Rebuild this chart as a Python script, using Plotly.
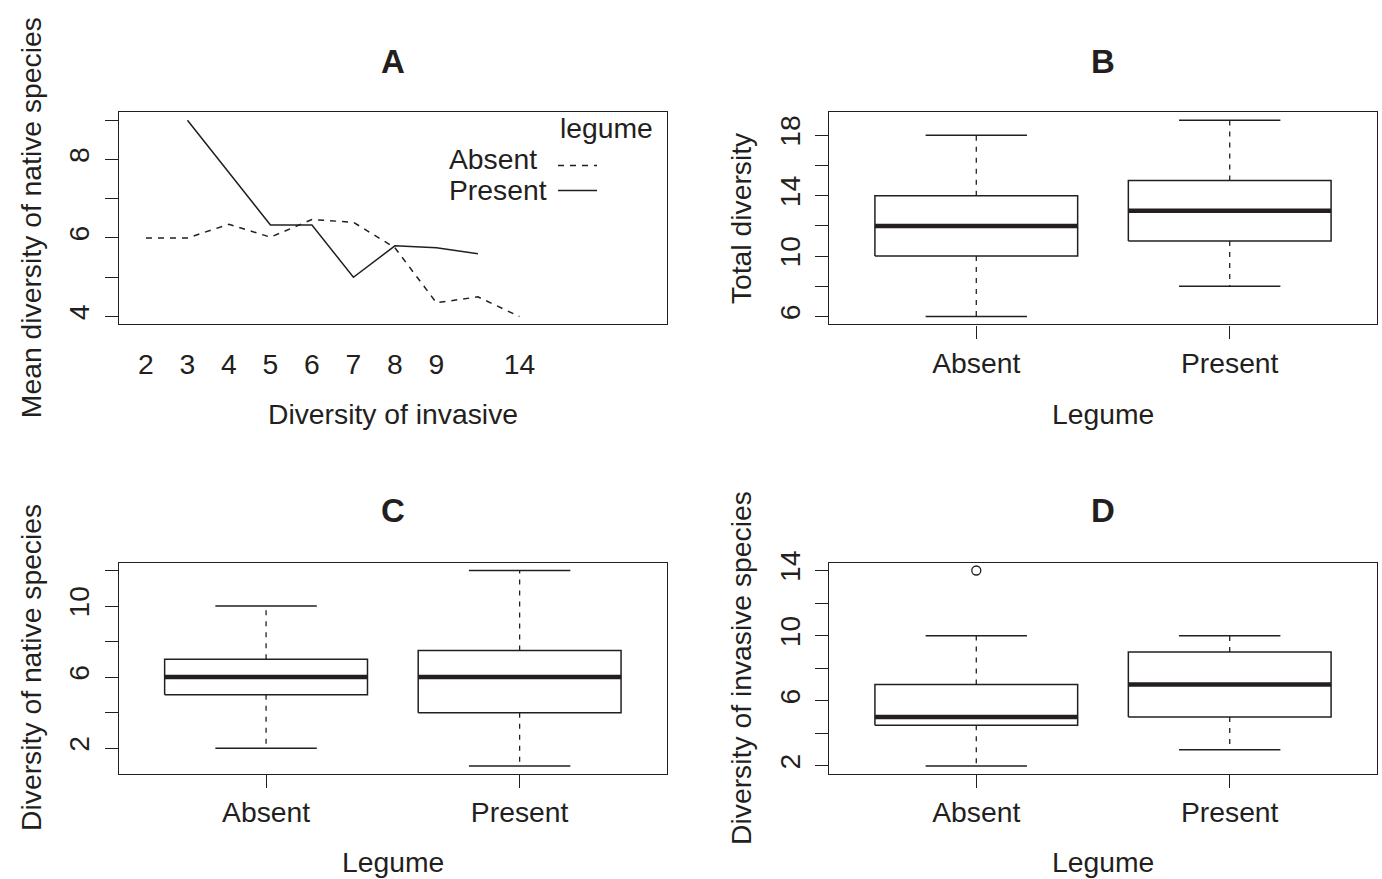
import plotly.graph_objects as go

# ---------------- data ----------------
# Panel A: interaction plot
invasive_levels = ["2", "3", "4", "5", "6", "7", "8", "9", "10", "14"]
invasive_tick_labels = ["2", "3", "4", "5", "6", "7", "8", "9", "", "14"]
mean_native_absent = [6.0, 6.0, 6.35, 6.02, 6.47, 6.4, 5.75, 4.35, 4.5, 4.0]
mean_native_present = [None, 9.0, 7.67, 6.33, 6.33, 5.0, 5.8, 5.75, 5.6, None]
legend_title = "legume"
legend_labels = ["Absent", "Present"]

# Box panels (groups)
legume_groups = ["Absent", "Present"]

total_q1 = [10, 11]
total_median = [12, 13]
total_q3 = [14, 15]
total_wlo = [6, 8]
total_whi = [18, 19]
total_out = [[], []]

native_q1 = [5, 4]
native_median = [6, 6]
native_q3 = [7, 7.5]
native_wlo = [2, 1]
native_whi = [10, 12]
native_out = [[], []]

invasive_q1 = [4.5, 5]
invasive_median = [5, 7]
invasive_q3 = [7, 9]
invasive_wlo = [2, 3]
invasive_whi = [10, 10]
invasive_out = [[14], []]

# y tick values / labels
a_yticks = [4, 5, 6, 7, 8, 9]
a_ylabels = ["4", "", "6", "", "8", ""]
b_yticks = [6, 8, 10, 12, 14, 16, 18]
b_ylabels = ["6", "", "10", "", "14", "", "18"]
c_yticks = [2, 4, 6, 8, 10, 12]
c_ylabels = ["2", "", "6", "", "10", ""]
d_yticks = [2, 4, 6, 8, 10, 12, 14]
d_ylabels = ["2", "", "6", "", "10", "", "14"]

# ---------------- style ----------------
W, H = 1382, 879
INK = "#231f20"
FONT = "Liberation Sans, Arial, Helvetica, sans-serif"
FS = 28.3
TFS = 33


def fx(px):
    return px / W


def fy(py):
    return 1 - py / H


fig = go.Figure()

# Panel A lines
fig.add_trace(go.Scatter(x=invasive_levels, y=mean_native_absent, mode="lines",
                         line=dict(color=INK, width=1.5, dash="6px,6px"),
                         xaxis="x", yaxis="y", showlegend=False, hoverinfo="skip"))
fig.add_trace(go.Scatter(x=invasive_levels, y=mean_native_present, mode="lines",
                         line=dict(color=INK, width=1.5), connectgaps=False,
                         xaxis="x", yaxis="y", showlegend=False, hoverinfo="skip"))


def add_boxes(xa, ya, q1, med, q3, wlo, whi, outs):
    for i in range(len(legume_groups)):
        p = i + 1
        hw = 0.4
        cw = 0.2
        # whiskers (dashed)
        fig.add_trace(go.Scatter(x=[p, p], y=[q3[i], whi[i]], mode="lines",
                                 line=dict(color=INK, width=1.3, dash="5px,6px"),
                                 xaxis=xa, yaxis=ya, showlegend=False, hoverinfo="skip"))
        fig.add_trace(go.Scatter(x=[p, p], y=[q1[i], wlo[i]], mode="lines",
                                 line=dict(color=INK, width=1.3, dash="5px,6px"),
                                 xaxis=xa, yaxis=ya, showlegend=False, hoverinfo="skip"))
        # caps
        for v in (whi[i], wlo[i]):
            fig.add_trace(go.Scatter(x=[p - cw, p + cw], y=[v, v], mode="lines",
                                     line=dict(color=INK, width=1.5),
                                     xaxis=xa, yaxis=ya, showlegend=False, hoverinfo="skip"))
        # box
        fig.add_trace(go.Scatter(x=[p - hw, p + hw, p + hw, p - hw, p - hw],
                                 y=[q1[i], q1[i], q3[i], q3[i], q1[i]], mode="lines",
                                 fill="toself", fillcolor="white",
                                 line=dict(color=INK, width=1.5),
                                 xaxis=xa, yaxis=ya, showlegend=False, hoverinfo="skip"))
        # median
        fig.add_trace(go.Scatter(x=[p - hw, p + hw], y=[med[i], med[i]], mode="lines",
                                 line=dict(color=INK, width=4.5),
                                 xaxis=xa, yaxis=ya, showlegend=False, hoverinfo="skip"))
        if outs[i]:
            fig.add_trace(go.Scatter(x=[p] * len(outs[i]), y=outs[i], mode="markers",
                                     marker=dict(symbol="circle-open", size=9,
                                                 color=INK, line=dict(width=1.3, color=INK)),
                                     xaxis=xa, yaxis=ya, showlegend=False, hoverinfo="skip"))


add_boxes("x2", "y2", total_q1, total_median, total_q3, total_wlo, total_whi, total_out)
add_boxes("x3", "y3", native_q1, native_median, native_q3, native_wlo, native_whi, native_out)
add_boxes("x4", "y4", invasive_q1, invasive_median, invasive_q3, invasive_wlo, invasive_whi, invasive_out)

# ---------------- layout ----------------
left_dom = [fx(119), fx(666.7)]
right_dom = [fx(829.3), fx(1376.7)]
top_dom = [fy(316.7), fy(101.7)]
bot_dom = [fy(772.3), fy(558.3)]

axis_common = dict(showline=True, mirror=True, linecolor=INK, linewidth=1.4,
                   showgrid=False, zeroline=False, ticks="outside", ticklen=13,
                   tickwidth=1.3, tickcolor=INK,
                   tickfont=dict(family=FONT, size=FS, color=INK))

xbox = dict(axis_common, range=[0.42, 2.58], tickmode="array",
            tickvals=[i + 1 for i in range(len(legume_groups))],
            ticktext=legume_groups, ticklabelstandoff=0)


def yax(dom, anchor, rng, vals, labels):
    return dict(axis_common, domain=dom, anchor=anchor, range=rng, tickmode="array",
                tickvals=vals, ticktext=labels, tickangle=-90, ticklabelstandoff=4)


fig.update_layout(
    width=W, height=H, autosize=False,
    margin=dict(l=0, r=0, t=0, b=0),
    paper_bgcolor="white", plot_bgcolor="white",
    font=dict(family=FONT, size=FS, color=INK),
    showlegend=False,
    xaxis=dict(axis_common, domain=left_dom, anchor="y", type="category",
               categoryorder="array", categoryarray=invasive_levels,
               range=[-0.65, 12.55], tickmode="array", tickvals=invasive_levels,
               ticktext=invasive_tick_labels, ticks="", ticklabelstandoff=14),
    yaxis=yax(top_dom, "x", [3.8, 9.2], a_yticks, a_ylabels),
    xaxis2=dict(xbox, domain=right_dom, anchor="y2"),
    yaxis2=yax(top_dom, "x2", [5.48, 19.52], b_yticks, b_ylabels),
    xaxis3=dict(xbox, domain=left_dom, anchor="y3"),
    yaxis3=yax(bot_dom, "x3", [0.56, 12.44], c_yticks, c_ylabels),
    xaxis4=dict(xbox, domain=right_dom, anchor="y4"),
    yaxis4=yax(bot_dom, "x4", [1.52, 14.48], d_yticks, d_ylabels),
)

ann = []


def txt(x, y, s, size=FS, bold=False, angle=0, xanchor="center"):
    ann.append(dict(x=fx(x), y=fy(y), xref="paper", yref="paper", text=("<b>%s</b>" % s) if bold else s,
                    showarrow=False, textangle=angle, xanchor=xanchor, yanchor="middle",
                    font=dict(family=FONT, size=size, color=INK)))


# panel titles
panel_titles = ["A", "B", "C", "D"]
txt(393, 50, panel_titles[0], TFS, True)
txt(1103, 50, panel_titles[1], TFS, True)
txt(393, 505, panel_titles[2], TFS, True)
txt(1103, 505, panel_titles[3], TFS, True)

# axis titles
txt(393, 408, "Diversity of invasive")
txt(1103, 408, "Legume")
txt(393, 862, "Legume")
txt(1103, 862, "Legume")
txt(31, 209, "Mean diversity of native species", angle=-90)
txt(741, 209, "Total diversity", angle=-90)
txt(31, 665, "Diversity of native species", angle=-90)
txt(741, 665, "Diversity of invasive species", angle=-90)

# legend for panel A
txt(655, 118, legend_title, xanchor="right")
txt(447, 149, legend_labels[0], xanchor="left")
txt(447, 180, legend_labels[1], xanchor="left")
fig.update_layout(annotations=ann)

fig.add_shape(type="line", xref="paper", yref="paper", x0=fx(558), x1=fx(597),
              y0=fy(155.5), y1=fy(155.5), line=dict(color=INK, width=1.5, dash="6px,6px"))
fig.add_shape(type="line", xref="paper", yref="paper", x0=fx(558), x1=fx(597),
              y0=fy(181), y1=fy(181), line=dict(color=INK, width=1.5))

fig.write_html("out.html")
